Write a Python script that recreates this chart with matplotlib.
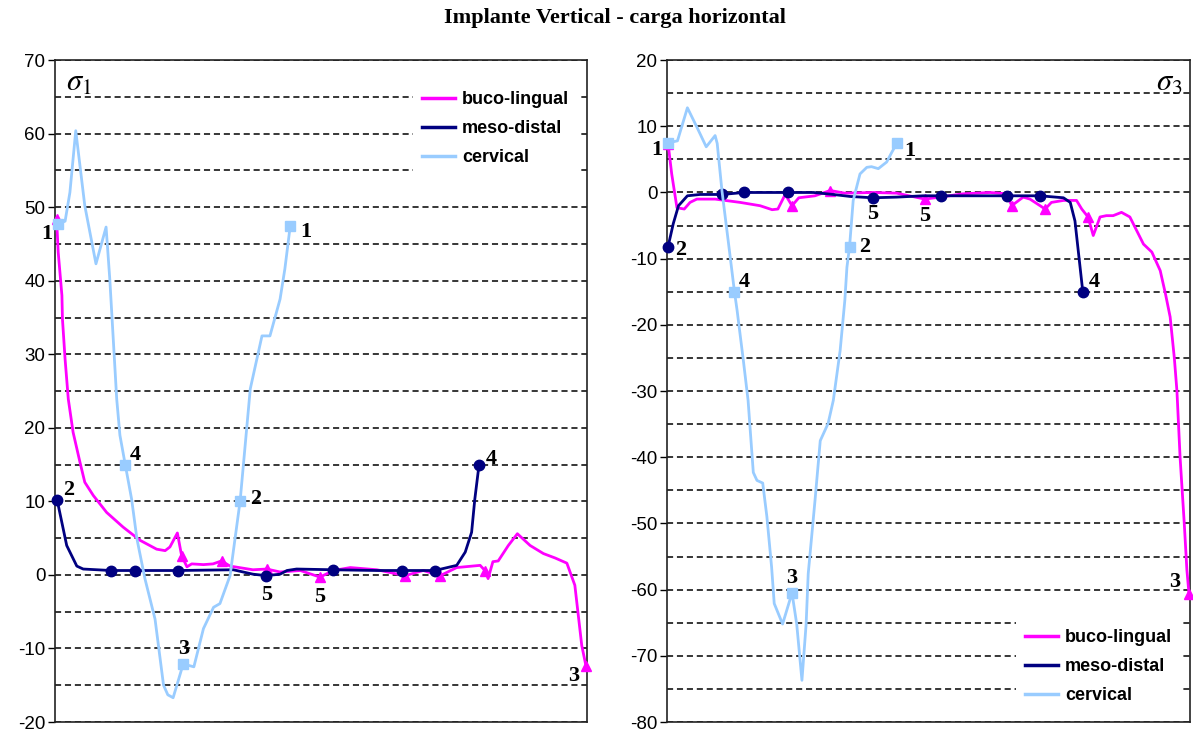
import matplotlib.pyplot as plt
from matplotlib.ticker import MultipleLocator, NullLocator
from matplotlib.lines import Line2D

plt.rcParams['mathtext.fontset'] = 'stix'
plt.rcParams['axes.unicode_minus'] = False

# ---- sigma 1 (left panel) ----
bl1_x = [0.3, 0.6, 1.3, 1.4, 1.9, 2.5, 3.4, 4.7, 5.6, 7.2, 9.7, 12.8, 16.0, 19.1, 20.7,
         21.6, 23.0, 23.8, 24.8, 25.7, 27.9, 29.7, 31.3, 32.9, 37.2, 39.8, 42.3, 46.1, 49.8, 52.3,
         55.5, 60.5, 65.8, 69.2, 72.4, 75.5, 79.9, 80.8, 81.4, 82.3, 83.3, 85.2, 86.9, 89.3, 91.8,
         94.0, 96.2, 97.7, 99.0, 99.8]
bl1_y = [48.4, 43.9, 38.0, 34.8, 29.3, 23.9, 19.4, 15.3, 12.6, 10.8, 8.5, 6.5, 4.7, 3.5, 3.3,
         3.8, 5.7, 2.6, 1.1, 1.5, 1.4, 1.5, 1.9, 1.2, 0.7, 0.8, 0.4, 0.6, -0.3, 0.6,
         1.0, 0.7, -0.1, 0.6, -0.1, 1.0, 1.3, 0.6, -0.5, 1.8, 1.9, 4.0, 5.6, 4.0, 2.9,
         2.3, 1.6, -1.4, -9.6, -12.4]
bl1_marks = [0, 17, 22, 25, 28, 32, 34, 37, 49]

md1_x = [0.4, 2.2, 4.1, 5.3, 10.5, 15.0, 23.2, 33.5, 37.2, 39.7, 42.3, 43.6, 45.4, 52.3, 60.5,
         65.2, 71.4, 75.5, 77.1, 78.3, 78.9, 79.7]
md1_y = [10.2, 4.0, 1.2, 0.8, 0.6, 0.6, 0.6, 0.7, 0.1, -0.1, 0.1, 0.6, 0.8, 0.7, 0.6,
         0.6, 0.6, 1.3, 3.1, 5.8, 10.3, 15.0]
md1_marks = [0, 4, 5, 6, 9, 13, 15, 16, 21]

cv1_x = [0.6, 1.9, 2.8, 3.9, 4.3, 5.6, 7.7, 9.6, 10.3, 10.7, 11.6, 12.2, 13.2, 14.4, 15.4,
         16.9, 18.8, 20.4, 21.2, 22.2, 24.1, 26.1, 27.9, 29.8, 31.0, 32.9, 34.8, 36.7, 38.9, 40.4,
         42.3, 43.2, 44.2]
cv1_y = [47.7, 48.1, 52.0, 60.4, 58.0, 50.2, 42.3, 47.3, 40.2, 35.2, 23.9, 19.0, 15.0, 10.3, 4.9,
         -0.5, -6.0, -15.0, -16.3, -16.7, -12.1, -12.5, -7.3, -4.4, -3.9, -0.1, 10.1, 25.3, 32.5, 32.5,
         37.5, 41.6, 47.4]
cv1_marks = [0, 12, 20, 26, 32]

# ---- sigma 3 (right panel) ----
bl3_x = [0.2, 0.9, 1.9, 3.3, 4.4, 5.7, 9.2, 14.0, 17.8, 20.1, 21.2, 22.6, 23.9, 25.2, 28.3,
         31.2, 34.0, 39.4, 43.9, 49.3, 52.2, 56.6, 61.8, 65.0, 65.9, 68.1, 69.4, 72.3, 73.5, 75.8,
         78.3, 79.3, 80.5, 81.5, 82.8, 84.0, 85.3, 86.9, 88.5, 91.1, 92.7, 94.3, 95.3, 96.2, 97.0,
         97.5, 98.1, 98.9, 99.4, 99.8]
bl3_y = [7.4, 2.8, -2.3, -2.5, -1.5, -1.0, -1.0, -1.5, -2.0, -2.6, -2.5, -0.3, -2.0, -0.8, -0.5,
         0.3, -0.1, 0.0, -0.1, -1.0, -0.7, -0.2, 0.0, -0.2, -2.0, -0.7, -1.0, -2.5, -1.5, -1.2,
         -1.2, -2.5, -3.7, -6.5, -3.7, -3.5, -3.5, -3.0, -3.7, -7.8, -9.0, -11.8, -15.3, -18.8, -25.0,
         -30.0, -40.0, -50.0, -57.0, -60.6]
bl3_marks = [0, 12, 15, 19, 24, 27, 32, 49]

md3_x = [0.2, 1.2, 2.2, 3.9, 6.3, 10.5, 14.7, 23.1, 28.0, 31.8, 35.0, 39.3, 43.9, 49.0, 52.3,
         65.1, 71.3, 75.8, 77.1, 78.0, 78.7, 79.5]
md3_y = [-8.2, -4.7, -2.0, -0.5, -0.3, -0.3, 0.0, 0.0, 0.0, -0.3, -0.6, -0.8, -0.7, -0.5, -0.5,
         -0.5, -0.5, -0.8, -1.5, -4.3, -9.3, -15.0]
md3_marks = [0, 5, 6, 7, 11, 14, 15, 16, 21]

cv3_x = [0.2, 2.0, 3.9, 5.7, 7.5, 9.2, 9.6, 10.5, 11.7, 12.9, 13.4, 14.6, 15.5, 16.5, 17.2,
         18.3, 19.1, 20.0, 20.5, 22.1, 23.9, 24.8, 25.8, 26.6, 27.0, 28.3, 29.3, 30.8, 31.8, 33.1,
         34.0, 34.4, 34.9, 35.6, 36.9, 38.2, 39.1, 40.4, 42.0, 43.0, 44.0]
cv3_y = [7.5, 7.8, 12.8, 9.9, 6.9, 8.6, 7.4, 0.3, -7.3, -15.0, -17.8, -25.4, -31.4, -42.3, -43.5,
         -43.9, -49.0, -56.6, -62.1, -65.2, -60.5, -65.2, -73.7, -65.2, -57.6, -46.5, -37.5, -34.9, -31.4, -23.9,
         -16.3, -11.3, -8.2, -1.2, 2.8, 3.8, 3.9, 3.6, 4.6, 6.1, 7.5]
cv3_marks = [0, 9, 20, 32, 40]

series_names = ['buco-lingual', 'meso-distal', 'cervical']
colors = ['#FF00FF', '#000080', '#99CCFF']
markers = ['^', 'o', 's']

# point labels: (series, index, text, dx, dy) offsets in points
labels1 = [(2, 0, '1', -8, -7), (2, 32, '1', 11, -4), (1, 0, '2', 8, 7), (2, 26, '2', 11, 1),
           (2, 12, '4', 7, 7), (1, 21, '4', 9, 4), (2, 20, '3', 0, 11), (0, 49, '3', -9, -7),
           (1, 9, '5', 0, -14), (0, 28, '5', 0, -14)]
labels3 = [(2, 0, '1', -8, -5), (2, 40, '1', 9, -6), (1, 0, '2', 9, -2), (2, 32, '2', 11, 0),
           (2, 9, '4', 7, 7), (1, 21, '4', 8, 7), (2, 20, '3', 0, 11), (0, 49, '3', -10, 8),
           (1, 11, '5', 0, -12), (0, 19, '5', 0, -12)]

fig = plt.figure(figsize=(11.93, 7.33), dpi=100)
fig.text(0.5155, 0.975, 'Implante Vertical - carga horizontal', ha='center', va='center',
         fontsize=16, fontweight='bold', family='Liberation Serif')


def draw_panel(ax, data, labels, ymin, ymax):
    ax.set_xlim(0, 100)
    ax.set_ylim(ymin, ymax)
    ax.yaxis.set_major_locator(MultipleLocator(10))
    ax.yaxis.set_minor_locator(MultipleLocator(5))
    ax.xaxis.set_major_locator(NullLocator())
    ax.grid(True, which='both', axis='y', color='black', linestyle=(0, (4, 2.5)), linewidth=1.1)
    ax.set_axisbelow(True)
    ax.tick_params(axis='y', which='major', length=5, width=1, labelsize=13.5, pad=2)
    ax.tick_params(axis='y', which='minor', length=0)
    for lab in ax.get_yticklabels():
        lab.set_family('Liberation Sans')
    for s in ax.spines.values():
        s.set_linewidth(1.2)
        s.set_color('#222222')

    for (x, y, marks), c, m in zip(data, colors, markers):
        ax.plot(x, y, color=c, lw=2, marker=m, markevery=marks, ms=7.5,
                mec=c, mfc=c, clip_on=False, zorder=3)

    for si, idx, txt, dx, dy in labels:
        x, y, _ = data[si]
        ax.annotate(txt, (x[idx], y[idx]), xytext=(dx, dy), textcoords='offset points',
                    ha='center', va='center', fontsize=16, fontweight='bold',
                    family='Liberation Serif', zorder=5)


ax1 = fig.add_axes([0.0461, 0.015, 0.446, 0.903])
draw_panel(ax1, [(bl1_x, bl1_y, bl1_marks), (md1_x, md1_y, md1_marks), (cv1_x, cv1_y, cv1_marks)],
           labels1, -20, 70)
ax1.text(0.02, 0.988, r'$\sigma_1$', transform=ax1.transAxes, fontsize=22, va='top', ha='left')

ax2 = fig.add_axes([0.5591, 0.015, 0.4384, 0.903])
draw_panel(ax2, [(bl3_x, bl3_y, bl3_marks), (md3_x, md3_y, md3_marks), (cv3_x, cv3_y, cv3_marks)],
           labels3, -80, 20)
ax2.text(0.985, 0.988, r'$\sigma_3$', transform=ax2.transAxes, fontsize=22, va='top', ha='right')

handles = [Line2D([], [], color=c, lw=2.5) for c in colors]
leg_kw = dict(frameon=True, fancybox=False, framealpha=1, facecolor='white', edgecolor='none',
              handlelength=1.8, handletextpad=0.4, labelspacing=0.65, borderpad=0.5,
              prop={'family': 'Liberation Sans', 'weight': 'bold', 'size': 13})
l1 = ax1.legend(handles, series_names, loc='upper right', bbox_to_anchor=(1.0, 0.98), **leg_kw)
l1.set_zorder(4)
l2 = ax2.legend(handles, series_names, loc='lower right', bbox_to_anchor=(1.0, 0.0), **leg_kw)
l2.set_zorder(4)

fig.savefig('out.png', dpi=100)
